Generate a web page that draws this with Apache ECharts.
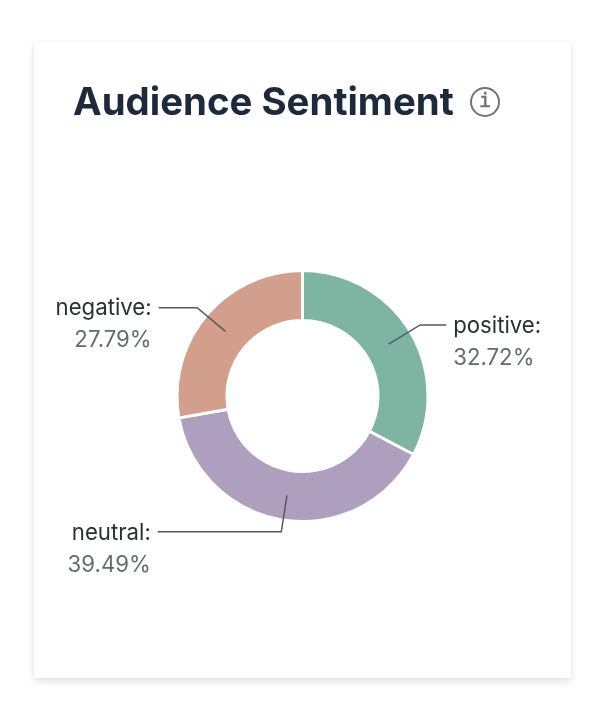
<!DOCTYPE html>
<html>
<head>
<meta charset="utf-8">
<title>Audience Sentiment</title>
<script src="https://cdn.jsdelivr.net/npm/echarts@6/dist/echarts.min.js"></script>
<style>
    html, body { margin: 0; padding: 0; background: #fff; }
    #card {
        position: absolute; left: 34px; top: 42px; width: 537px; height: 636px;
        background: #fff;
        box-shadow: 0 4px 8px rgba(0, 0, 0, 0.10), 0 0 4px rgba(0, 0, 0, 0.05);
    }
    #main { position: absolute; left: 0; top: 0; width: 610px; height: 716px; }
</style>
</head>
<body>
<div id="card"></div>
<div id="main"></div>
<script>
var categories = ['positive', 'neutral', 'negative'];
var shares = [32.72, 39.49, 27.79];
var colors = ['#7eb5a2', '#af9fbf', '#d19f8c'];
// 每条引导线水平段的长度
var lineRuns = [26, 123.5, 38.5];

var ringData = categories.map(function (name, i) {
    return { name: name, value: shares[i], itemStyle: { color: colors[i] } };
});
var labelData = categories.map(function (name, i) {
    return { name: name, value: shares[i], labelLine: { length2: lineRuns[i] } };
});

var myChart = echarts.init(document.getElementById('main'), null, { renderer: 'canvas' });

var option = {
    backgroundColor: 'transparent',
    title: {
        text: 'Audience Sentiment',
        left: 73,
        top: 84,
        padding: 0,
        textStyle: { fontFamily: 'Inter', fontWeight: 700, fontSize: 38.4, color: '#1e293b' }
    },
    graphic: [
        {
            type: 'circle',
            shape: { cx: 485, cy: 102, r: 14 },
            style: { fill: 'none', stroke: '#71717f', lineWidth: 2 }
        },
        {
            type: 'text',
            x: 485,
            y: 102,
            style: {
                text: 'i',
                font: '20px "DejaVu Sans Mono"',
                fill: '#71717f',
                stroke: '#71717f',
                lineWidth: 0.6,
                align: 'center',
                verticalAlign: 'middle'
            }
        }
    ],
    series: [
        {
            type: 'pie',
            z: 2,
            center: [302.5, 396],
            radius: [75.5, 125.5],
            startAngle: 90,
            silent: true,
            animation: false,
            label: { show: false },
            labelLine: { show: false },
            itemStyle: { borderColor: '#fff', borderWidth: 3 },
            data: ringData
        },
        {
            // 透明的一层，只用来画标签，让引导线从圆环中间出发
            type: 'pie',
            z: 5,
            center: [302.5, 396],
            radius: [0, 100.5],
            startAngle: 90,
            silent: true,
            animation: false,
            avoidLabelOverlap: false,
            itemStyle: { color: 'transparent' },
            emphasis: { disabled: true },
            label: {
                show: true,
                position: 'outside',
                distanceToLabelLine: 7,
                padding: [34, 0, 0, 0],
                formatter: function (p) {
                    return '{name|' + p.name + ':}\n{pct|' + p.value.toFixed(2) + '%}';
                },
                rich: {
                    name: { fontFamily: 'Inter', fontSize: 22.2, lineHeight: 32, color: '#2b2f36' },
                    pct: { fontFamily: 'Inter', fontSize: 22.2, lineHeight: 32, color: '#666a70' }
                }
            },
            labelLine: {
                show: true,
                showAbove: true,
                length: 37,
                smooth: false,
                lineStyle: { color: '#55585d', width: 1.5 }
            },
            data: labelData
        }
    ]
};

myChart.setOption(option);
</script>
</body>
</html>
